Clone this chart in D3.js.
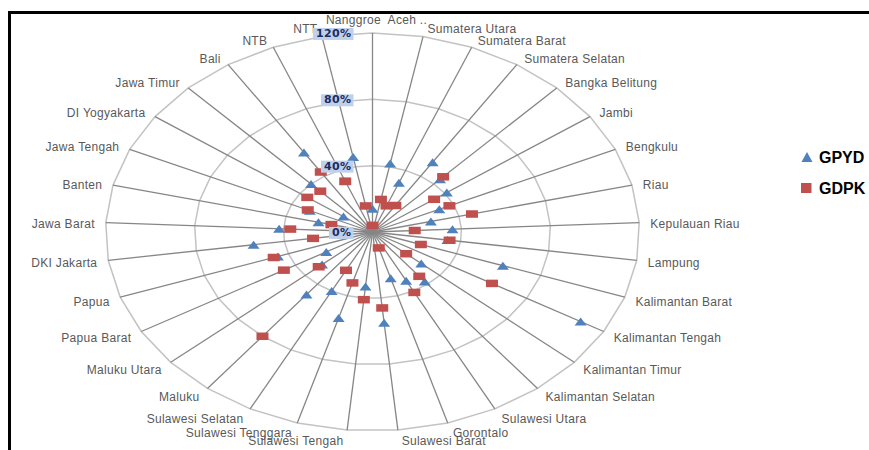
<!DOCTYPE html>
<html>
<head>
<meta charset="utf-8">
<script src="https://cdn.jsdelivr.net/npm/d3@7"></script>
<style>
  html, body { margin: 0; padding: 0; background: #fff; }
  svg { display: block; }
</style>
</head>
<body>
<svg id="chart" width="869" height="450"></svg>
<script>
// Provinces, clockwise from the top spoke
const categories = [
  "Nanggroe  Aceh ..", "Sumatera Utara", "Sumatera Barat", "Sumatera Selatan",
  "Bangka Belitung", "Jambi", "Bengkulu", "Riau", "Kepulauan Riau", "Lampung",
  "Kalimantan Barat", "Kalimantan Tengah", "Kalimantan Timur", "Kalimantan Selatan",
  "Sulawesi Utara", "Gorontalo", "Sulawesi Barat", "Sulawesi Tengah",
  "Sulawesi Tenggara", "Sulawesi Selatan", "Maluku", "Maluku Utara", "Papua Barat",
  "Papua", "DKI Jakarta", "Jawa Barat", "Banten", "Jawa Tengah", "DI Yogyakarta",
  "Jawa Timur", "Bali", "NTB", "NTT"
];

// Series values (%)
const gpyd = [14, 42, 32, 50, 44, 41, 33, 27, 36, 34, 62, 108, 29, 38, 33, 29, 55,
              33, 54, 40, 48, 30, 24, 45, 54, 42, 25, 31, 16, 40, 57, 33, 46];
const gdpk = [4, 20, 17, 19, 46, 34, 38, 46, 19, 35, 23, 62, 20, 34, 41, 10, 46,
              41, 32, 26, 80, 32, 46, 47, 27, 37, 19, 32, 36, 34, 43, 33, 16];

const tickValues = [0, 40, 80, 120];
const tickLabels = ["0%", "40%", "80%", "120%"];
const seriesNames = ["GPYD", "GDPK"];
const seriesColors = ["#4F81BD", "#C0504D"];

const W = 869, H = 450;
const cx = 372.5, cy = 232, rx = 267, ry = 199;
const n = categories.length;

const svg = d3.select("#chart");

// outer frame
svg.append("rect")
  .attr("x", 9.5).attr("y", 12.5)
  .attr("width", W + 20).attr("height", H + 20)
  .attr("fill", "#fff").attr("stroke", "#000").attr("stroke-width", 3);

const angle = d3.scaleLinear().domain([0, n]).range([0, 2 * Math.PI]);
const rX = d3.scaleLinear().domain([0, 120]).range([0, rx]);
const rY = d3.scaleLinear().domain([0, 120]).range([0, ry]);
const px = (i, v) => cx + rX(v) * Math.sin(angle(i));
const py = (i, v) => cy - rY(v) * Math.cos(angle(i));

// gridline polygons
const ring = d3.line().curve(d3.curveLinearClosed);
svg.append("g").selectAll("path")
  .data(tickValues.filter(v => v > 0))
  .join("path")
  .attr("d", v => ring(d3.range(n).map(i => [px(i, v), py(i, v)])))
  .attr("fill", "none")
  .attr("stroke", "#c3c3c3")
  .attr("stroke-width", 1.5);

// spokes
svg.append("g").selectAll("line")
  .data(d3.range(n))
  .join("line")
  .attr("x1", cx).attr("y1", cy)
  .attr("x2", i => px(i, 120)).attr("y2", i => py(i, 120))
  .attr("stroke", "#868686")
  .attr("stroke-width", 1.3);

// GPYD markers (triangles)
svg.append("g").selectAll("path")
  .data(gpyd)
  .join("path")
  .attr("d", (v, i) => {
    const x = px(i, v), y = py(i, v);
    return `M${x - 6},${y + 4}L${x},${y - 4}L${x + 6},${y + 4}Z`;
  })
  .attr("fill", seriesColors[0]);

// GDPK markers (squares)
svg.append("g").selectAll("rect")
  .data(gdpk)
  .join("rect")
  .attr("x", (v, i) => px(i, v) - 6)
  .attr("y", (v, i) => py(i, v) - 3.75)
  .attr("width", 12).attr("height", 7.5)
  .attr("fill", seriesColors[1]);

// category labels
svg.append("g").selectAll("text")
  .data(categories)
  .join("text")
  .each(function (name, i) {
    const s = Math.sin(angle(i)), c = Math.cos(angle(i));
    const ex = px(i, 120), ey = py(i, 120);
    let anchor = "middle", x = ex, y = ey - 9 * c + 1.5;
    if (s > 0.05) { anchor = "start"; x = ex + 3 + 8 * Math.abs(s); }
    else if (s < -0.05) { anchor = "end"; x = ex - 3 - 8 * Math.abs(s); }
    else { x = ex + 4; y = ey - 13; }
    d3.select(this)
      .attr("x", x).attr("y", y)
      .attr("dy", "0.35em")
      .attr("text-anchor", anchor);
  })
  .style("white-space", "pre")
  .attr("font-family", "'Liberation Sans', Arial, sans-serif")
  .attr("font-size", 12)
  .attr("letter-spacing", 0.3)
  .attr("fill", "#595959")
  .text(d => d);

// value axis labels on the top spoke
const tickG = svg.append("g").selectAll("g")
  .data(tickValues)
  .join("g");
tickG.append("rect");
tickG.append("text")
  .attr("x", 351.5)
  .attr("y", v => cy - rY(v))
  .attr("dy", "0.36em")
  .attr("text-anchor", "end")
  .attr("font-family", "'DejaVu Sans', Verdana, sans-serif")
  .attr("font-weight", "bold")
  .attr("font-size", 11)
  .attr("letter-spacing", 0.4)
  .attr("fill", "#1d2b63")
  .text((v, i) => tickLabels[i]);
tickG.each(function () {
  const g = d3.select(this);
  const b = g.select("text").node().getBBox();
  g.select("rect")
    .attr("x", b.x - 3).attr("y", b.y + 1)
    .attr("width", b.width + 5).attr("height", b.height - 1)
    .attr("fill", "#bfd1ea");
});

// legend
const legend = svg.append("g");
const legendY = [157, 188];
legend.append("path")
  .attr("d", `M801.5,${legendY[0] + 5}L807,${legendY[0] - 5}L812.5,${legendY[0] + 5}Z`)
  .attr("fill", seriesColors[0]);
legend.append("rect")
  .attr("x", 801).attr("y", legendY[1] - 5)
  .attr("width", 10.5).attr("height", 10)
  .attr("fill", seriesColors[1]);
legend.selectAll("text")
  .data(seriesNames)
  .join("text")
  .attr("x", 819)
  .attr("y", (d, i) => legendY[i])
  .attr("dy", "0.36em")
  .attr("font-family", "'Liberation Sans', Arial, sans-serif")
  .attr("font-weight", "bold")
  .attr("font-size", 16)
  .attr("fill", "#000")
  .text(d => d);
</script>
</body>
</html>
